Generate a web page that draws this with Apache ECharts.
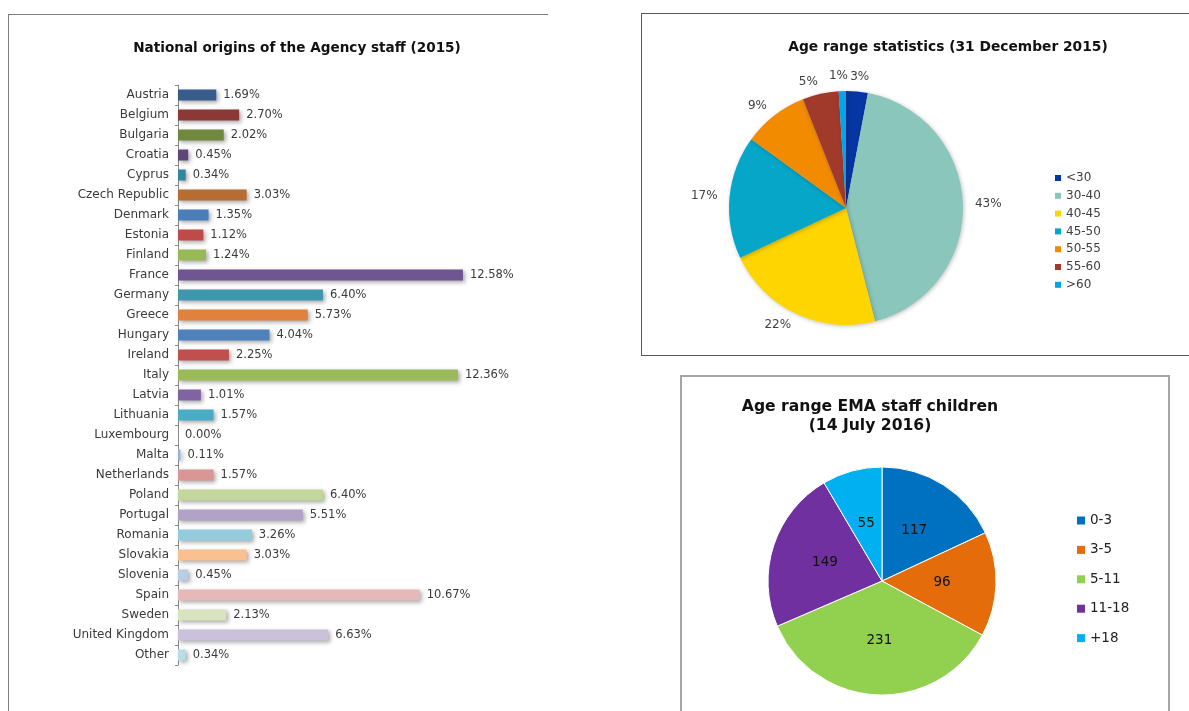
<!DOCTYPE html>
<html>
<head>
<meta charset="utf-8">
<title>EMA staff statistics</title>
<script src="https://cdn.jsdelivr.net/npm/echarts@6/dist/echarts.min.js"></script>
<style>
  html, body { margin: 0; padding: 0; background: #fff; }
  .panel { position: absolute; box-sizing: border-box; }
  #panelLeft { left: 8px; top: 14px; width: 540px; height: 720px; border-top: 1px solid #7f7f7f; border-left: 1px solid #7f7f7f; }
  #panelAge { left: 641px; top: 13px; width: 560px; height: 343px; border: 1px solid #595959; }
  #panelKids { left: 680px; top: 375px; width: 490px; height: 360px; border: 2px solid #a6a6a6; }
  #main { position: absolute; left: 0; top: 0; width: 1189px; height: 711px; }
</style>
</head>
<body>
<div class="panel" id="panelLeft"></div>
<div class="panel" id="panelAge"></div>
<div class="panel" id="panelKids"></div>
<div id="main"></div>
<script>
// national origins (2015), % of staff
const countries = [
  'Austria', 'Belgium', 'Bulgaria', 'Croatia', 'Cyprus', 'Czech Republic', 'Denmark',
  'Estonia', 'Finland', 'France', 'Germany', 'Greece', 'Hungary', 'Ireland', 'Italy',
  'Latvia', 'Lithuania', 'Luxembourg', 'Malta', 'Netherlands', 'Poland', 'Portugal',
  'Romania', 'Slovakia', 'Slovenia', 'Spain', 'Sweden', 'United Kingdom', 'Other'
];
const originShare = [
  1.69, 2.70, 2.02, 0.45, 0.34, 3.03, 1.35,
  1.12, 1.24, 12.58, 6.40, 5.73, 4.04, 2.25, 12.36,
  1.01, 1.57, 0.00, 0.11, 1.57, 6.40, 5.51,
  3.26, 3.03, 0.45, 10.67, 2.13, 6.63, 0.34
];
const barColors = [
  '#385d8a', '#8c3836', '#71893f', '#5c4776', '#31859c', '#b66d31', '#4a7ebb',
  '#be4b48', '#98b954', '#6f5592', '#3f97ad', '#e0823d', '#4f81bd', '#c0504d', '#9bbb59',
  '#8064a2', '#4bacc6', '#f79646', '#95b3d7', '#d99694', '#c3d69b', '#b3a2c7',
  '#93cddd', '#fac090', '#b9cde5', '#e6b9b8', '#d7e4bd', '#ccc1da', '#b7dee8'
];

// age range statistics (31 December 2015), %
const ageRanges = ['<30', '30-40', '40-45', '45-50', '50-55', '55-60', '>60'];
const ageShare = [3, 43, 22, 17, 9, 5, 1];
const ageColors = ['#0636a3', '#8ac6bc', '#ffd500', '#06a6c8', '#f38b00', '#a23a2c', '#00a6ec'];

// age range EMA staff children (14 July 2016), counts
const childRanges = ['0-3', '3-5', '5-11', '11-18', '+18'];
const childCount = [117, 96, 231, 149, 55];
const childColors = ['#0070c0', '#e46c0a', '#92d050', '#7030a0', '#00b0f0'];

let myChart = echarts.init(document.getElementById('main'));

myChart.setOption({
  backgroundColor: 'transparent',
  animation: false,
  title: [
    {
      text: 'National origins of the Agency staff (2015)',
      left: 297, top: 41, padding: 0, textAlign: 'center',
      textStyle: { fontFamily: 'DejaVu Sans', fontSize: 13.6, fontWeight: 'bold', color: '#111' }
    },
    {
      text: 'Age range statistics (31 December 2015)',
      left: 948, top: 40, padding: 0, textAlign: 'center',
      textStyle: { fontFamily: 'DejaVu Sans', fontSize: 13.8, fontWeight: 'bold', color: '#111' }
    },
    {
      text: 'Age range EMA staff children\n(14 July 2016)',
      left: 870, top: 398, padding: 0, textAlign: 'center',
      textStyle: { fontFamily: 'DejaVu Sans', fontSize: 15.6, fontWeight: 'bold', color: '#111', lineHeight: 18.5 }
    }
  ],
  legend: [
    {
      data: ageRanges,
      orient: 'vertical',
      left: 1055, top: 172,
      itemWidth: 6, itemHeight: 6, itemGap: 5.8,
      icon: 'rect',
      padding: 0,
      itemStyle: { borderWidth: 0, shadowBlur: 0 },
      textStyle: { fontFamily: 'DejaVu Sans', fontSize: 12, lineHeight: 12, color: '#404040' }
    },
    {
      data: childRanges,
      orient: 'vertical',
      left: 1077, top: 513,
      itemWidth: 8, itemHeight: 8, itemGap: 14.4,
      icon: 'rect',
      padding: 0,
      itemStyle: { borderWidth: 0 },
      textStyle: { fontFamily: 'DejaVu Sans', fontSize: 13.5, lineHeight: 15, color: '#222' }
    }
  ],
  grid: { left: 178, top: 85, width: 339.75, height: 580, containLabel: false },
  xAxis: { type: 'value', min: 0, max: 15, show: false },
  yAxis: {
    type: 'category',
    inverse: true,
    data: countries,
    axisLine: { lineStyle: { color: '#8a8a8a' } },
    axisTick: { show: true, length: 3, lineStyle: { color: '#8a8a8a' } },
    axisLabel: { margin: 9, fontFamily: 'DejaVu Sans', fontSize: 12, color: '#3a3a3a' }
  },
  series: [
    {
      type: 'bar',
      barWidth: 11,
      data: originShare,
      itemStyle: {
        color: (p) => barColors[p.dataIndex],
        shadowColor: 'rgba(0,0,0,0.35)',
        shadowBlur: 4,
        shadowOffsetX: 2,
        shadowOffsetY: 2
      },
      label: {
        show: true,
        position: 'right',
        distance: 7,
        formatter: (p) => p.value.toFixed(2) + '%',
        fontFamily: 'DejaVu Sans',
        fontSize: 11.5,
        color: '#3a3a3a'
      }
    },
    {
      type: 'pie',
      center: [846, 208],
      radius: 117,
      startAngle: 90,
      clockwise: true,
      avoidLabelOverlap: false,
      data: ageRanges.map((n, i) => ({ name: n, value: ageShare[i], itemStyle: { color: ageColors[i] } })),
      itemStyle: { shadowColor: 'rgba(0,0,0,0.25)', shadowBlur: 4, shadowOffsetX: 1, shadowOffsetY: 1 },
      label: {
        position: 'outside',
        formatter: '{c}%',
        distanceToLabelLine: 0,
        fontFamily: 'DejaVu Sans',
        fontSize: 12,
        color: '#404040'
      },
      labelLine: { show: false, length: 12, length2: 0 },
      // the two thin slices at 12 o'clock: labels sit side by side as in the original
      labelLayout: (p) => {
        if (p.dataIndex === 0) return { dx: -8, dy: -3 };
        if (p.dataIndex === ageShare.length - 1) return { dx: 6, dy: -3 };
        return {};
      },
      emphasis: { disabled: true }
    },
    {
      type: 'pie',
      center: [882, 581],
      radius: 114,
      startAngle: 90,
      clockwise: true,
      data: childRanges.map((n, i) => ({ name: n, value: childCount[i], itemStyle: { color: childColors[i] } })),
      itemStyle: { borderColor: '#fff', borderWidth: 1 },
      label: {
        position: 'inside',
        formatter: '{c}',
        fontFamily: 'DejaVu Sans',
        fontSize: 13.5,
        color: '#111'
      },
      labelLine: { show: false },
      emphasis: { disabled: true }
    }
  ]
});

window.addEventListener('resize', () => {
  myChart.resize();
});
</script>
</body>
</html>
